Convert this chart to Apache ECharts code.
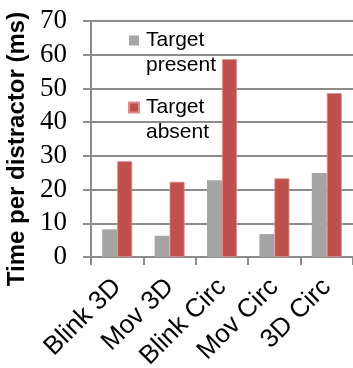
<!DOCTYPE html>
<html>
<head>
<meta charset="utf-8">
<script src="https://cdn.jsdelivr.net/npm/echarts@6/dist/echarts.min.js"></script>
<style>html,body{margin:0;padding:0;background:#fff;}#c{width:353px;height:368px;}</style>
</head>
<body>
<div id="c"></div>
<script>
var categories = ['Blink 3D', 'Mov 3D', 'Blink Circ', 'Mov Circ', '3D Circ'];
var targetPresent = [8.2, 6.3, 22.8, 6.8, 24.9];
var targetAbsent = [28.4, 22.3, 58.7, 23.3, 48.6];
var yTicks = [0, 10, 20, 30, 40, 50, 60, 70];

var chart = echarts.init(document.getElementById('c'));
chart.setOption({
  animation: false,
  backgroundColor: '#fff',
  grid: { left: 91, right: 0, top: 21, bottom: 111, containLabel: false, outerBoundsMode: 'none' },
  legend: {
    orient: 'vertical',
    left: 128, top: 3,
    padding: 0,
    itemWidth: 10, itemHeight: 10,
    itemGap: -8,
    icon: 'rect',
    textStyle: { fontFamily: 'Liberation Sans, Arial', fontSize: 21, color: '#000', lineHeight: 25, padding: [0, 0, 0, 2] },
    formatter: function (n) { return '\n' + n.replace(' ', '\n'); },
    data: ['Target present', 'Target absent']
  },
  xAxis: {
    type: 'category',
    data: categories,
    axisLine: { lineStyle: { color: '#8c8c8c', width: 2 } },
    axisTick: { show: true, length: 8, lineStyle: { color: '#8c8c8c', width: 2 } },
    axisLabel: { rotate: 45, margin: 26, fontFamily: 'Liberation Sans, Arial', fontSize: 26, color: '#000', interval: 0 }
  },
  yAxis: {
    type: 'value',
    min: yTicks[0], max: yTicks[yTicks.length - 1], interval: 10,
    name: 'Time per distractor (ms)',
    nameLocation: 'middle',
    nameGap: 61,
    nameTextStyle: { fontFamily: 'Liberation Sans, Arial', fontWeight: 'bold', fontSize: 24, color: '#000', padding: [0, 20, 0, 0] },
    axisLine: { show: true, lineStyle: { color: '#8c8c8c', width: 2 } },
    axisTick: { show: true, length: 8, lineStyle: { color: '#8c8c8c', width: 2 } },
    axisLabel: { margin: 24, fontFamily: 'Liberation Serif, serif', fontSize: 27, color: '#000' },
    splitLine: { lineStyle: { color: '#8c8c8c', width: 2 } }
  },
  series: [
    { name: 'Target present', type: 'bar', data: targetPresent, barWidth: 15, barGap: '0%',
      itemStyle: { color: '#A5A5A5' } },
    { name: 'Target absent', type: 'bar', data: targetAbsent, barWidth: 15,
      itemStyle: { color: '#C0504D', borderColor: '#dc8f8d', borderWidth: 0.8 } }
  ]
});
</script>
</body>
</html>
